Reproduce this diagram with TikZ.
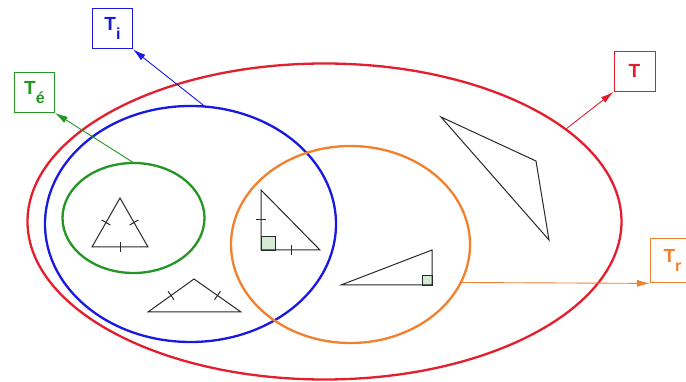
\documentclass[tikz,border=0pt]{standalone}
\usepackage{fontspec}
\setmainfont{Liberation Sans}
\usetikzlibrary{arrows.meta,calc}
\definecolor{cred}{RGB}{228,30,45}
\definecolor{cblue}{RGB}{25,25,225}
\definecolor{cgreen}{RGB}{35,150,35}
\definecolor{corange}{RGB}{242,128,45}
\definecolor{cgray}{RGB}{40,40,40}
\newcommand{\lbl}[2]{\fontsize{19}{19}\selectfont\bfseries #1\raisebox{-9pt}{\fontsize{16}{16}\selectfont\bfseries #2}}
\tikzset{
  setell/.style={line width=2.3pt},
  lblbox/.style={draw, line width=0.9pt, minimum width=41pt, minimum height=41pt, inner sep=0pt},
  ptr/.style={line width=0.9pt, -{Latex[length=13pt,width=7pt]}},
  tri/.style={draw=cgray, line width=1pt, line join=miter},
  tick/.style={draw=cgray, line width=1pt},
  rsq/.style={draw=cgray, fill=cgreen!20, line width=0.8pt}
}
\begin{document}
\begin{tikzpicture}[x=1pt,y=-1pt]
\useasboundingbox (0,0) rectangle (686,382);
\fill[white] (0,0) rectangle (686,382);
\clip (0,0) rectangle (686,382);
% ellipses
\draw[setell, cred] (324.5,221.5) ellipse [x radius=297, y radius=158];
\draw[setell, cblue] (190.5,224) ellipse [x radius=145.5, y radius=118];
\draw[setell, cgreen] (133.5,218) ellipse [x radius=71, y radius=55];
\draw[setell, corange] (350.5,244.5) ellipse [x radius=119.5, y radius=98.5];
% anchor coordinates on the ellipses
\coordinate (redpt) at (566,129);
\coordinate (bluept) at (205,106.5);
\coordinate (greenpt) at (134,163);
\coordinate (orangept) at (462,282.5);
% label boxes
\node[lblbox, cblue, anchor=north west, minimum width=40pt, minimum height=40pt, text=cblue] (Ti) at (92,8.5) {\lbl{T}{i}};
\node[lblbox, cgreen, anchor=north west, minimum width=40pt, minimum height=40pt, text=cgreen] (Te) at (14,72) {\lbl{T}{é}};
\node[lblbox, cred, anchor=north west, minimum width=41pt, minimum height=40pt, text=cred] (T) at (613.5,51) {\fontsize{19}{19}\selectfont\bfseries T};
\node[lblbox, corange, anchor=north west, minimum width=44pt, minimum height=44pt, text=corange] (Tr) at (650,238.5) {\lbl{T}{r}};
% pointers
\draw[ptr, cblue] (bluept) -- (Ti.south east);
\draw[ptr, cgreen] (greenpt) -- (Te.south east);
\draw[ptr, cred] (redpt) -- (T.south west);
\draw[ptr, corange] (orangept) -- (Tr.south west);
% equilateral triangle
\coordinate (e1) at (120,198);
\coordinate (e2) at (92,247);
\coordinate (e3) at (148,247);
\draw[tri] (e1) -- (e2) -- (e3) -- cycle;
\draw[tick] ($(e1)!0.5!(e2)$) ++(-4.3,-2.5) -- ++(8.6,5);
\draw[tick] ($(e1)!0.5!(e3)$) ++(-4.3,2.5) -- ++(8.6,-5);
\draw[tick] ($(e2)!0.5!(e3)$) ++(0,-5) -- ++(0,10);
% obtuse isosceles triangle
\coordinate (o1) at (148,312);
\coordinate (o2) at (194,279);
\coordinate (o3) at (241,312);
\draw[tri] (o1) -- (o2) -- (o3) -- cycle;
\draw[tick] ($(o1)!0.5!(o2)$) ++(-2.9,-4.1) -- ++(5.8,8.2);
\draw[tick] ($(o2)!0.5!(o3)$) ++(2.9,-4.1) -- ++(-5.8,8.2);
% right isosceles triangle
\coordinate (r1) at (261,190);
\coordinate (r2) at (261,250);
\coordinate (r3) at (320,250);
\draw[rsq] (r2) rectangle ++(14,-14);
\draw[tri] (r1) -- (r2) -- (r3) -- cycle;
\draw[tick] (256,220) -- (266,220);
\draw[tick] (291,245) -- (291,255);
% right triangle
\coordinate (s1) at (341,285);
\coordinate (s2) at (432,285);
\coordinate (s3) at (432,250);
\draw[rsq] (s2) rectangle ++(-10,-10);
\draw[tri] (s1) -- (s2) -- (s3) -- cycle;
% scalene triangle
\draw[tri] (441,117) -- (536,161) -- (549,240) -- cycle;
\end{tikzpicture}
\end{document}
